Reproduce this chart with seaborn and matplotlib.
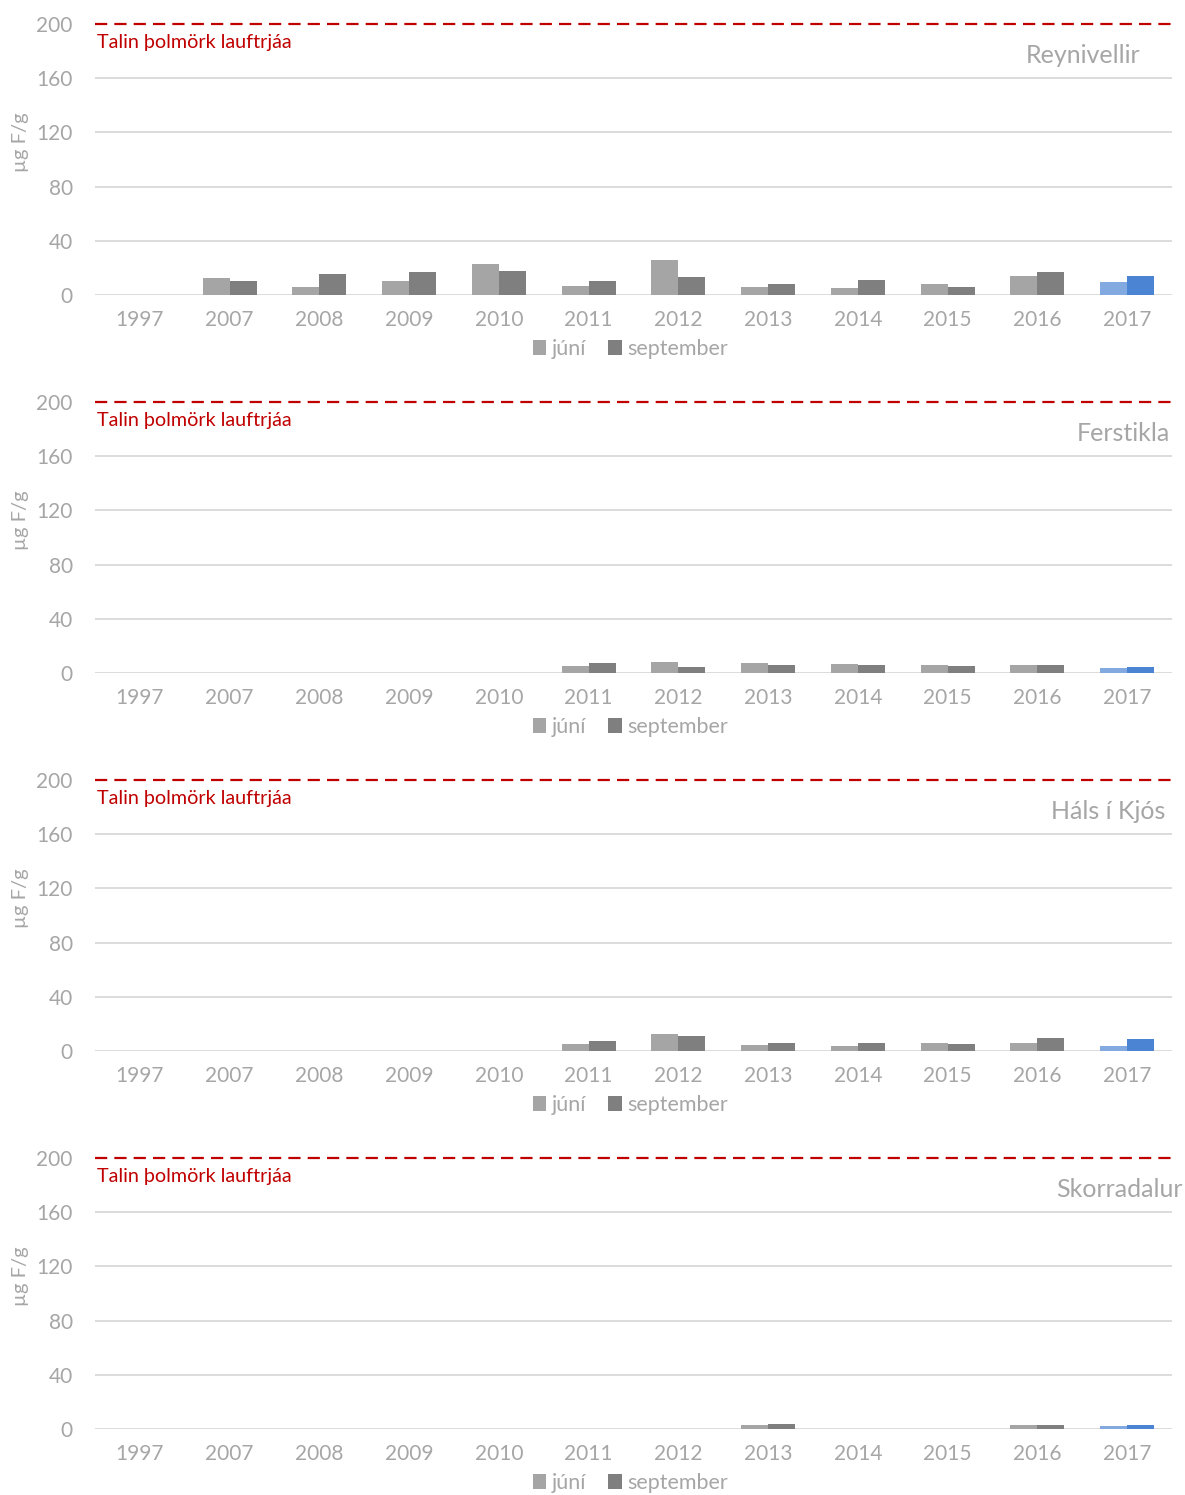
import matplotlib

matplotlib.use("Agg")
import matplotlib.pyplot as plt
import matplotlib.transforms as mtransforms
from matplotlib.patches import Patch
import numpy as np
import pandas as pd
import seaborn as sns

# --- data (µg F/g), None = not measured ---
years = ["1997", "2007", "2008", "2009", "2010", "2011",
         "2012", "2013", "2014", "2015", "2016", "2017"]
months = ["júní", "september"]
stations = ["Reynivellir", "Ferstikla", "Háls í Kjós", "Skorradalur"]

reynivellir_juni = [None, 12.3, 5.7, 10.6, 22.6, 6.9, 26.0, 5.7, 5.2, 8.1, 13.8, 9.6]
reynivellir_sept = [None, 10.6, 15.7, 16.7, 17.7, 10.3, 13.0, 8.4, 11.0, 6.2, 16.7, 13.8]
ferstikla_juni = [None, None, None, None, None, 5.4, 8.1, 7.6, 6.9, 5.6, 6.1, 3.4]
ferstikla_sept = [None, None, None, None, None, 7.6, 4.7, 6.1, 6.1, 5.2, 5.6, 4.7]
hals_juni = [None, None, None, None, None, 5.4, 12.5, 4.4, 3.9, 6.1, 5.9, 3.9]
hals_sept = [None, None, None, None, None, 7.4, 11.3, 6.1, 5.7, 5.2, 9.8, 8.9]
skorradalur_juni = [None, None, None, None, None, None, None, 3.0, None, None, 3.0, 2.5]
skorradalur_sept = [None, None, None, None, None, None, None, 4.0, None, None, 3.0, 3.2]

station_data = {
    "Reynivellir": (reynivellir_juni, reynivellir_sept),
    "Ferstikla": (ferstikla_juni, ferstikla_sept),
    "Háls í Kjós": (hals_juni, hals_sept),
    "Skorradalur": (skorradalur_juni, skorradalur_sept),
}

threshold = 200
threshold_label = "Talin þolmörk lauftrjáa"
yticks = [0, 40, 80, 120, 160, 200]

# --- style ---
GREY_TXT = "#A6A6A6"
GRID = "#D9D9D9"
RED = "#C00000"
bar_colors = ["#A5A5A5", "#7F7F7F"]
hl_colors = ["#82AAE0", "#4A84D2"]  # 2017 highlighted
title_right = {"Reynivellir": 1140, "Ferstikla": 1170,
               "Háls í Kjós": 1165, "Skorradalur": 1183}

sns.set_theme(style="white")
plt.rcParams["font.family"] = ["Lato", "DejaVu Sans"]

W, H = 1185, 1495
fig = plt.figure(figsize=(W / 100, H / 100), dpi=100)

left_px, right_px = 95, 1172
for i, st in enumerate(stations):
    top_px = 24 + 378 * i
    bot_px = 295 + 378 * i
    ax = fig.add_axes([left_px / W, 1 - bot_px / H,
                       (right_px - left_px) / W, (bot_px - top_px) / H])
    juni, sept = station_data[st]
    df = pd.DataFrame({
        "year": years * 2,
        "month": [months[0]] * len(years) + [months[1]] * len(years),
        "value": pd.to_numeric(pd.Series(list(juni) + list(sept)), errors="coerce"),
    })
    sns.barplot(data=df, x="year", y="value", hue="month", order=years,
                hue_order=months, palette=bar_colors, width=0.6, saturation=1,
                linewidth=0, errorbar=None, legend=False, ax=ax)
    # highlight last year in blue
    for k, cont in enumerate(ax.containers):
        for bar in cont:
            cx = bar.get_x() + bar.get_width() / 2
            if round(cx) == len(years) - 1:
                bar.set_facecolor(hl_colors[k])

    ax.set_xlim(-0.5, len(years) - 0.5)
    ax.set_ylim(0, threshold)
    ax.set_yticks(yticks)
    for y in yticks[:-1]:
        ax.axhline(y, color=GRID, lw=1.3, zorder=0)
    ax.axhline(threshold, color=RED, lw=1.6, dashes=(5.5, 3.2), zorder=3,
               clip_on=False)
    for s in ax.spines.values():
        s.set_visible(False)
    ax.tick_params(axis="both", length=0, labelsize=15, labelcolor=GREY_TXT)
    ax.tick_params(axis="y", pad=16)
    ax.tick_params(axis="x", pad=11)
    ax.set_xlabel("")
    ax.set_ylabel("")

    trans = mtransforms.blended_transform_factory(ax.transAxes, ax.transData)
    ax.text(0.002, 186.5, threshold_label, transform=trans, color=RED,
            fontsize=14.2, ha="left", va="center")
    ax.text((title_right[st] - left_px) / (right_px - left_px), 176.5, st,
            transform=trans, color=GREY_TXT, fontsize=18, ha="right",
            va="center", clip_on=False)
    ax.text((20 - left_px) / (right_px - left_px), 0.565, "µg F/g",
            transform=ax.transAxes, rotation=90, color=GREY_TXT, fontsize=14.5,
            ha="center", va="center")

    handles = [Patch(facecolor=c, edgecolor="none") for c in bar_colors]
    leg = ax.legend(handles, months, loc="center", ncol=2, frameon=False,
                    bbox_to_anchor=(0.497, -0.2), fontsize=15.5,
                    handlelength=0.65, handleheight=0.65, handletextpad=0.25,
                    columnspacing=1.0)
    for t in leg.get_texts():
        t.set_color(GREY_TXT)

fig.savefig("out.png", dpi=100)
plt.close(fig)
